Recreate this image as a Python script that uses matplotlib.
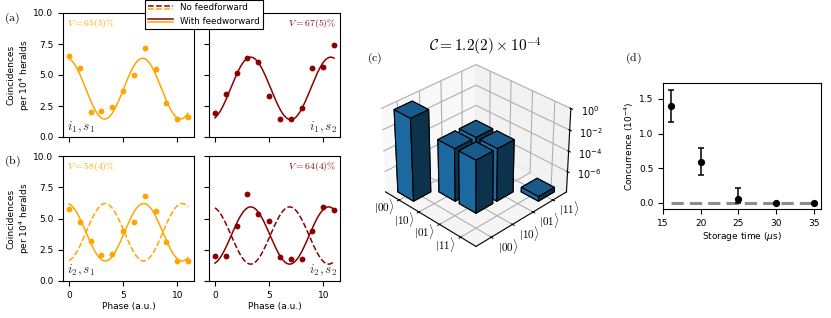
import numpy as np
import matplotlib
matplotlib.use("Agg")
import matplotlib.pyplot as plt
from matplotlib.legend_handler import HandlerBase
from matplotlib.lines import Line2D
from mpl_toolkits.mplot3d import proj3d

ORANGE = "orange"
DARKRED = "#8b0000"

# ---- (a), (b): coincidences vs phase
phase = np.arange(12)
coinc_i1s1 = [6.56, 5.54, 1.99, 2.07, 2.39, 3.71, 4.97, 7.15, 5.51, 2.77, 1.48, 1.61]
coinc_i1s2 = [1.91, 3.50, 5.15, 6.39, 6.01, 3.32, 1.43, 1.46, 2.32, 5.53, 5.61, 7.44]
coinc_i2s1 = [5.76, 4.69, 3.23, 2.08, 2.13, 4.03, 4.75, 6.77, 5.60, 3.12, 1.57, 1.60]
coinc_i2s2 = [1.99, 2.02, 4.37, 6.93, 5.36, 4.82, 1.91, 1.73, 1.78, 4.04, 5.90, 5.66]

# sinusoid fit parameters: offset, amplitude, period, position of a maximum
fit_i1s1 = [3.90, 2.45, 7.0, 6.8]
fit_i1s2 = [3.92, 2.52, 7.4, 3.3]
fit_i2s1 = [3.90, 2.30, 7.1, 6.9]
fit_i2s2 = [3.64, 2.29, 7.2, 3.3]
nofb_i2s1 = [3.90, 2.30, 7.1, 3.35]
nofb_i2s2 = [3.64, 2.29, 7.2, 6.9]

visibility = ["65(5)", "67(5)", "58(4)", "64(4)"]
pair_labels = [r"$i_1, s_1$", r"$i_1, s_2$", r"$i_2, s_1$", r"$i_2, s_2$"]

# ---- (c): reconstructed density matrix, log10 of bar heights
states = [r"$|00\rangle$", r"$|10\rangle$", r"$|01\rangle$", r"$|11\rangle$"]
bar_x = [0, 1, 1, 2, 2, 3]
bar_y = [0, 1, 2, 1, 2, 3]
bar_log10 = [-0.1, -2.9, -2.9, -2.9, -2.9, -7.55]
zticks = [-6, -4, -2, 0]

# ---- (d): concurrence vs storage time
storage_time = [16, 20, 25, 30, 35]
concurrence = [1.40, 0.59, 0.05, 0.0, 0.0]
conc_err_lo = [0.235, 0.195, 0.05, 0.0, 0.0]
conc_err_hi = [0.235, 0.195, 0.17, 0.0, 0.0]


def sine(x, p):
    off, amp, per, peak = p
    return off + amp * np.cos(2 * np.pi * (x - peak) / per)


class StackedLines(HandlerBase):
    """draws the lines of a tuple handle one above the other"""
    def create_artists(self, legend, orig_handle, xdescent, ydescent,
                       width, height, fontsize, trans):
        arts = []
        n = len(orig_handle)
        for k, h in enumerate(orig_handle):
            y = height / 2 - ydescent + (0.5 * (n - 1) - k) * height * 0.5
            ln = Line2D([-xdescent, width - xdescent], [y, y],
                        color=h.get_color(), linestyle=h.get_linestyle(),
                        linewidth=h.get_linewidth())
            ln.set_transform(trans)
            arts.append(ln)
        return arts


plt.rcParams["font.size"] = 6.5
plt.rcParams["axes.linewidth"] = 0.8

fig = plt.figure(figsize=(8.31, 3.18), dpi=100)

W, H = 831, 318


def px_axes(x0, y0, x1, y1, **kw):
    return fig.add_axes([x0 / W, 1 - y1 / H, (x1 - x0) / W, (y1 - y0) / H], **kw)


ax_a1 = px_axes(63, 13, 194, 137)
ax_a2 = px_axes(209, 13, 340, 137, sharey=ax_a1)
ax_b1 = px_axes(63, 156, 194, 281)
ax_b2 = px_axes(209, 156, 340, 281, sharey=ax_b1)

xs = np.linspace(0, 11, 300)
panels = [
    (ax_a1, coinc_i1s1, fit_i1s1, None, ORANGE, 0),
    (ax_a2, coinc_i1s2, fit_i1s2, None, DARKRED, 1),
    (ax_b1, coinc_i2s1, fit_i2s1, nofb_i2s1, ORANGE, 2),
    (ax_b2, coinc_i2s2, fit_i2s2, nofb_i2s2, DARKRED, 3),
]
for ax, data, fit, nofb, col, k in panels:
    ax.plot(phase, data, "o", color=col, ms=4.2, mew=0)
    ax.plot(xs, sine(xs, fit), "-", color=col, lw=1.1)
    if nofb is not None:
        ax.plot(xs, sine(xs, nofb), "--", color=col, lw=1.1)
    ax.set_ylim(0, 10)
    ax.set_yticks([0, 2.5, 5, 7.5, 10])
    ax.set_xticks([0, 5, 10])
    if k % 2 == 1:
        ax.tick_params(labelleft=False)
        tx, ha = 0.975, "right"
    else:
        ax.set_ylabel("Coincidences\nper 10$^4$ heralds", labelpad=1)
        tx, ha = 0.03, "left"
    ax.text(tx, 0.97, r"$V = %s\%%$" % visibility[k], transform=ax.transAxes,
            ha=ha, va="top", color=col, fontsize=7, math_fontfamily="cm")
    ax.text(tx, 0.02, pair_labels[k], transform=ax.transAxes,
            ha=ha, va="bottom", color="#333333", fontsize=9.5, math_fontfamily="cm")
    if k < 2:
        ax.tick_params(labelbottom=False)
    else:
        ax.set_xlabel("Phase (a.u.)", labelpad=1.5)

# legend with stacked colour pairs
h_no = (Line2D([], [], color=DARKRED, ls="--", lw=1.1), Line2D([], [], color=ORANGE, ls="--", lw=1.1))
h_with = (Line2D([], [], color=DARKRED, ls="-", lw=1.1), Line2D([], [], color=ORANGE, ls="-", lw=1.1))
leg = fig.legend([h_no, h_with], ["No feedforward", "With feedworward"],
                 handler_map={tuple: StackedLines()}, loc="upper center",
                 bbox_to_anchor=(204 / W, 1.0), borderaxespad=0, fancybox=False,
                 framealpha=1, edgecolor="black", handlelength=2.8, fontsize=6.3)
leg.get_frame().set_linewidth(0.8)

# ---- (c) 3D bars
ax_c = fig.add_axes([0.441, 0.196, 0.257, 0.64], projection="3d")
zmin = -8
w = 0.8
lim = (-0.7, 3.7)
for bx, by, bz in zip(bar_x, bar_y, bar_log10):
    ax_c.bar3d(bx - w / 2, by - w / 2, zmin, w, w, bz - zmin,
               color="#1f77b4", edgecolor="black", linewidth=0.8, shade=True)
ax_c.set_xlim(*lim)
ax_c.set_ylim(*lim)
ax_c.set_zlim(zmin, 0)
ax_c.set_xticks(range(4))
ax_c.set_yticks(range(4))
ax_c.set_xticklabels(states, math_fontfamily="cm", fontsize=8, ha="right", va="center")
ax_c.set_yticklabels(states, math_fontfamily="cm", fontsize=8, ha="left", va="center")
ax_c.tick_params(axis="x", pad=-4)
ax_c.tick_params(axis="y", pad=-3)
ax_c.set_zticks(zticks)
ax_c.set_zticklabels([])
ax_c.view_init(elev=32, azim=-45)

# z labels beside the right-hand vertical edge of the box
fig.canvas.draw()
for z in zticks:
    px, py, _ = proj3d.proj_transform(lim[1], lim[1], z, ax_c.get_proj())
    ax_c.annotate(r"$10^{%d}$" % z, xy=(px, py), xycoords="data",
                  xytext=(7, -2), textcoords="offset points",
                  fontsize=7, ha="left", va="center")

fig.text(485 / W, 1 - 47 / H, r"$\mathcal{C} = 1.2(2) \times 10^{-4}$",
         fontsize=11, ha="center", va="center", math_fontfamily="cm")

# ---- (d) concurrence
ax_d = px_axes(663, 83, 821, 209)
ax_d.plot([storage_time[0], storage_time[-1]], [0, 0], "--", color="#8c8c8c",
          lw=2.2, dashes=(4, 2), zorder=1)
ax_d.errorbar(storage_time, concurrence, yerr=[conc_err_lo, conc_err_hi], fmt="o",
              color="black", ms=4.2, capsize=2, elinewidth=1.1, capthick=1.1, zorder=3)
ax_d.set_ylim(-0.09, 1.73)
ax_d.set_xticks([15, 20, 25, 30, 35])
ax_d.set_yticks([0, 0.5, 1.0, 1.5])
ax_d.set_xlabel(r"Storage time ($\mu$s)", labelpad=1.5)
ax_d.set_ylabel(r"Concurrence (10$^{-4}$)", labelpad=2)

# panel labels
for lab, x, y in [("(a)", 12, 18), ("(b)", 12, 161), ("(c)", 375, 58), ("(d)", 633, 58)]:
    fig.text(x / W, 1 - y / H, r"$\mathrm{%s}$" % lab, fontsize=8.5, ha="center",
             va="center", math_fontfamily="cm")

fig.savefig("out.png", dpi=100)
